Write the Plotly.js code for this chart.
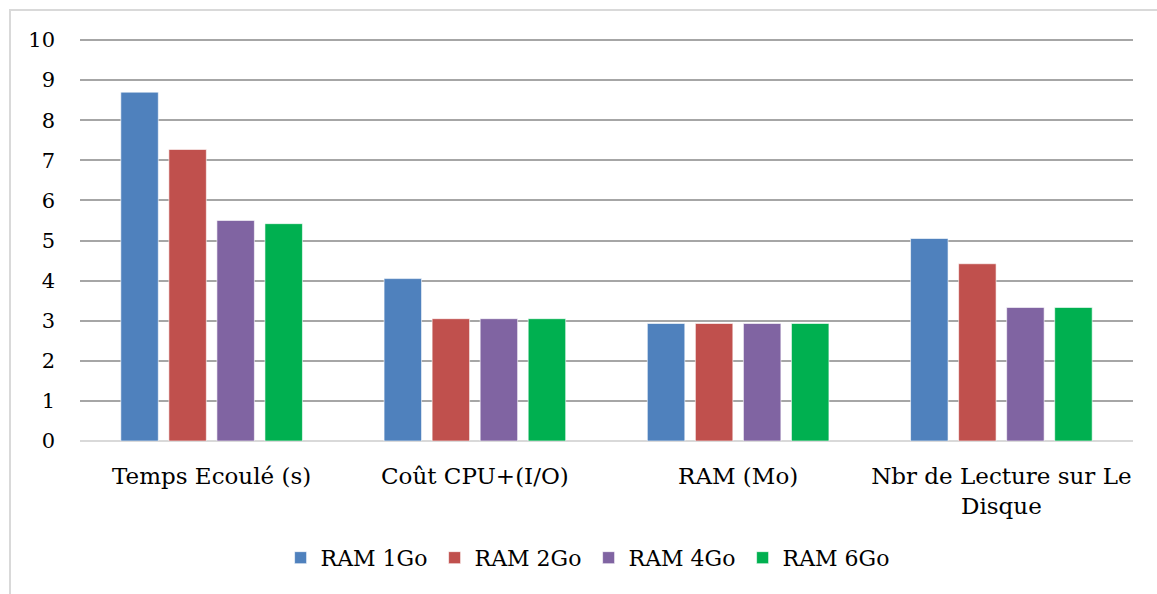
<!DOCTYPE html>
<html>
<head>
<meta charset="utf-8">
<script src="https://cdn.plot.ly/plotly-3.0.1.min.js"></script>
<style>
  html, body { margin: 0; padding: 0; background: #fff; }
  #wrap { position: relative; width: 1157px; height: 594px; overflow: hidden; }
  #chart { width: 1157px; height: 594px; }
  #frame { position: absolute; left: 9px; top: 9px; width: 1200px; height: 700px;
           border-left: 2px solid #d9d9d9; border-top: 2px solid #d9d9d9; pointer-events: none; }
</style>
</head>
<body>
<div id="wrap">
  <div id="chart"></div>
  <div id="frame"></div>
</div>
<script>
const categories = ["Temps Ecoulé (s)", "Coût CPU+(I/O)", "RAM (Mo)", "Nbr de Lecture sur Le<br>Disque"];
const seriesNames = ["RAM 1Go", "RAM 2Go", "RAM 4Go", "RAM 6Go"];
const ram1 = [8.70, 4.05, 2.93, 5.05];
const ram2 = [7.27, 3.05, 2.93, 4.42];
const ram4 = [5.50, 3.05, 2.93, 3.33];
const ram6 = [5.42, 3.05, 2.93, 3.33];
const colors = ["#4f81bd", "#c0504d", "#8064a2", "#00b050"];
const values = [ram1, ram2, ram4, ram6];

const FONT = "DejaVu Serif, Liberation Serif, serif";

const traces = values.map((v, i) => ({
  type: "bar",
  name: seriesNames[i],
  x: categories,
  y: v,
  marker: { color: colors[i], line: { color: "rgba(255,255,255,0.6)", width: 1 } },
  hoverinfo: "x+y+name"
}));

const layout = {
  width: 1157, height: 594,
  margin: { l: 80, r: 24, t: 38, b: 153 },
  paper_bgcolor: "#fff", plot_bgcolor: "#fff",
  barmode: "group",
  bargap: 0.27,
  bargroupgap: 0.22,
  font: { family: FONT, size: 22, color: "#000" },
  xaxis: {
    type: "category",
    showgrid: false,
    zeroline: false,
    showline: false,
    ticks: "",
    ticklabelstandoff: 19,
    tickfont: { family: FONT, size: 23, color: "#000" }
  },
  yaxis: {
    range: [0, 10.05],
    tickvals: [0, 1, 2, 3, 4, 5, 6, 7, 8, 9, 10],
    showgrid: true,
    gridcolor: "#a6a6a6",
    gridwidth: 2,
    zeroline: true,
    zerolinecolor: "#d9d9d9",
    zerolinewidth: 2,
    showline: false,
    ticks: "",
    ticklabelstandoff: 24,
    tickfont: { family: FONT, size: 21, color: "#000" }
  },
  showlegend: true,
  legend: {
    orientation: "h",
    x: 0.483, xanchor: "center",
    y: -0.29, yanchor: "middle",
    font: { family: FONT, size: 22, color: "#000" },
    itemwidth: 30,
    entrywidth: 109,
    entrywidthmode: "pixels",
    traceorder: "normal"
  }
};

Plotly.newPlot("chart", traces, layout, { displayModeBar: false, staticPlot: true });
</script>
</body>
</html>
